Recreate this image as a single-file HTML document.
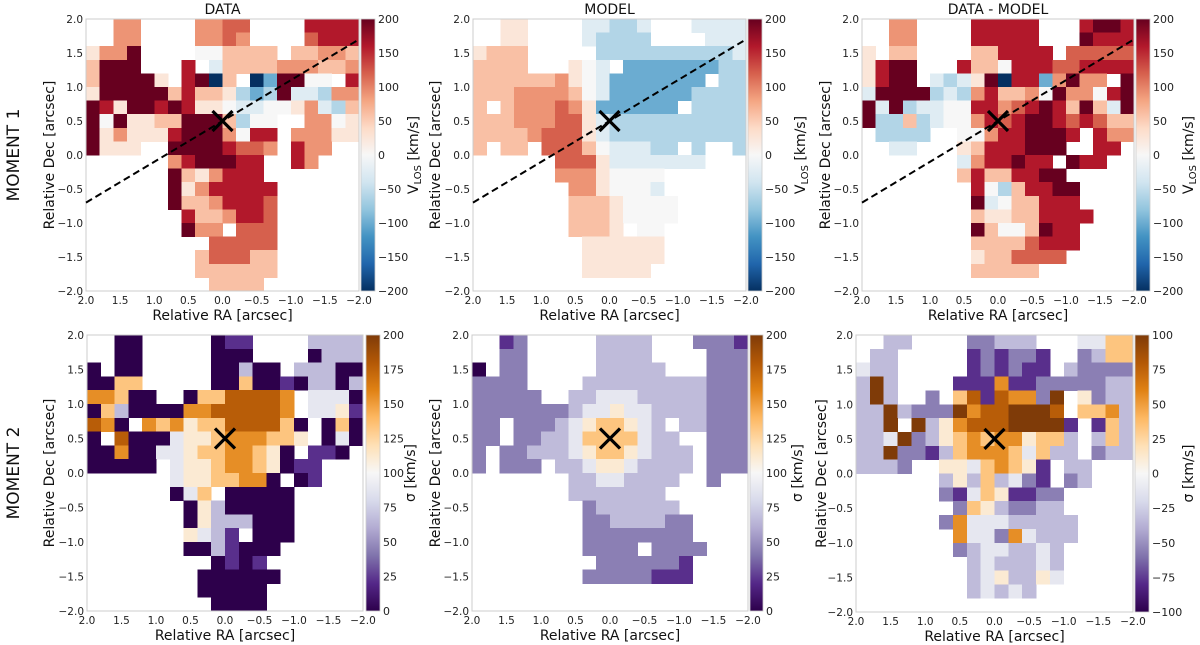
<!DOCTYPE html>
<html><head><meta charset="utf-8">
<style>
html,body{margin:0;padding:0;background:#fff;}
svg{display:block;font-family:"DejaVu Sans","Liberation Sans",sans-serif;}
</style></head>
<body>
<svg id="fig" width="1200" height="645" viewBox="0 0 1200 645" xmlns="http://www.w3.org/2000/svg"></svg>
<script>
// ---------- data ----------
const axisTicks=[2.0,1.5,1.0,0.5,0.0,-0.5,-1.0,-1.5,-2.0];
const velTicks=[200,150,100,50,0,-50,-100,-150,-200];
const sigTicks=[200,175,150,125,100,75,50,25,0];
const resTicks=[100,75,50,25,0,-25,-50,-75,-100];
const velCodes={a:-200,b:-150,c:-100,d:-60,e:-25,f:0,g:25,h:60,i:90,j:120,k:160,l:200};
const paLine=[[2.0,-0.7],[-2.0,1.7]];
const centre=[0.0,0.5];
const rowTitles=["MOMENT 1","MOMENT 2"];
const colTitles=["DATA","MODEL","DATA - MODEL"];

const mom1Data=[
"..ii....iijj....kkkk","..ii....iiji....jkkk","giil....ffhhhh.hhiih","hlll...k.ehhhhiiihhi",
"hllllg.klah.acllff.k","glllllhkhhgdcdleedii","lkgllklkggfeeffgiedh","lflgghhlllhdff..iifg",
"lgigggklllifkk.iiigg","lggg..llllkjji.kii..","......iklllkk..ki...","......lhgikkk.......",
"......lgikkkkk......","......lhhikkkj......",".......khhikkj......",".......lii.jjj......",
".........jjjjj......","........hjjjhh......","........hhhhhh......",".........hhhh......."];
const mom1Model=[
"..gg....eedde...eeee","..gg....edddd....eee","ghhh.....dddddddddde","hhhh...gfe.cccccccdd",
"hhhhhhigfeccccccc.dd","hhhiiiihfeccccccdddd","h.hiiijigcccccc.dddd","hhhiiijjgedddddddddd",
"hhhhijjjgedddddddddd","h.hh.jjjhfeeedd.d..d","......jjjgeeeeeee...","......iiigffff......",
".......iigfffe......",".......hhhgffff.....",".......hhhgffff.....",".......hhhg.ff......",
"........gggggg......","........gggggg......","........ggggg.......","...................."];
const mom1Resid=[
"..ii....kkkkk...kllk","..ii....kkkkk...lkkk","g.hh....hhkkkk.jjjjj","gkll...khhfkkkjjkkkk",
"gkll.edeglakkcilii.l","elllldedikhhifliifkl","leldeeffkkijklkhlhel","lddhdeffikjkllkjkjhh",
".dddd..ffikklllk.kii","..ee...ghkkklll..kk.",".......eikklkk.lkk..",".......hkhhkkll.....",
"........kfdhkkll....","........lefhhkkk....","........hgghhkkkk...","........lhffhlkk....",
"........hhhhjkkk....","........ghhjjjj.....","........hhhhh.......","...................."];
const mom2Data=[
"..00.....011....3333","..00.....000....0333","0.00.....00300.33300","0066.....00600103303",
"77600..06688887.4440","063000077888887.4451","870.767566888860.060","0.80004556777665.040",
"007004456677650.110.","00000.45567765011...","......45566770.01...","......046.00000.....",
".......05300000.....",".......05333000.....",".......5431.000.....",".......0031000......",
".........0101.......","........000000......","........00000.......",".........0000......."];
const mom2Model=[
"..12.....3333...2221","..22.....3333....222","0.22.....33333...222","2222....333333333222",
"22222..3344433333222","22222223445443333222","22.22234566543.33222","22.223346666433..222",
"2.22333456654333.222","2.222.3345543333.222",".......33443333..2..",".......3333333......",
"........2333333.....","........22333322....","........22222222....","........2222.2222...",
".........2222221....","........22222111....","....................","...................."];
const mom2Resid=[
"..33....22333...4466",".33.....121221..2366","433.....121211.32222","393....1117112222233",
"393..2.68187729.5233","339322297889998.6673","339.935788899991.163","3349235676775663.363",
"3392213677764633.233","3332..55467651.33...","......35363421.23...","......214651122.....",
".......26532233.....","......2744433333....",".......744274333....",".......23443343.....",
"........3433343.....","........3453354.....","........34343.......","...................."];

// ---------- colour maps ----------
const RDBU=["#053061","#2166ac","#4393c3","#92c5de","#d1e5f0","#f7f7f7","#fddbc7","#f4a582","#d6604d","#b2182b","#67001f"];
const PUOR=["#2d004b","#542788","#8073ac","#b2abd2","#d8daeb","#f7f7f7","#fee0b6","#fdb863","#e08214","#b35806","#7f3b08"];
function hex(h){return [1,3,5].map(i=>parseInt(h.substr(i,2),16));}
function cmap(stops,t){t=Math.max(0,Math.min(1,t));const n=stops.length-1;const f=t*n;const i=Math.min(n-1,Math.floor(f));const u=f-i;
 const a=hex(stops[i]),b=hex(stops[i+1]);return "rgb("+a.map((v,k)=>Math.round(v+(b[k]-v)*u)).join(",")+")";}

const NS="http://www.w3.org/2000/svg";
const svg=document.getElementById('fig');
function el(tag,attrs,parent){const e=document.createElementNS(NS,tag);for(const k in attrs)e.setAttribute(k,attrs[k]);(parent||svg).appendChild(e);return e;}

const panels=[
 {x:86,y:19,w:273,h:272,cb:361,cbw:14,rows:mom1Data,kind:"vel",min:-200,max:200,ticks:velTicks,map:RDBU,line:true,title:colTitles[0],ylab:54,cbx:418,name:"moment1-data"},
 {x:473,y:19,w:273,h:272,cb:748,cbw:14,rows:mom1Model,kind:"vel",min:-200,max:200,ticks:velTicks,map:RDBU,line:true,title:colTitles[1],ylab:440,cbx:805,name:"moment1-model"},
 {x:862,y:19,w:272,h:272,cb:1136,cbw:14,rows:mom1Resid,kind:"vel",min:-200,max:200,ticks:velTicks,map:RDBU,line:true,title:colTitles[2],ylab:830,cbx:1193,name:"moment1-residual"},
 {x:87,y:335,w:276,h:276,cb:366,cbw:14,rows:mom2Data,kind:"sig",min:0,max:200,ticks:sigTicks,map:PUOR,line:false,title:null,ylab:54,cbx:415,name:"moment2-data"},
 {x:472,y:335,w:276,h:276,cb:750,cbw:13,rows:mom2Model,kind:"sig",min:0,max:200,ticks:sigTicks,map:PUOR,line:false,title:null,ylab:440,cbx:802,name:"moment2-model"},
 {x:856,y:335,w:277,h:277,cb:1135,cbw:14,rows:mom2Resid,kind:"sig",min:-100,max:100,ticks:resTicks,map:PUOR,line:false,title:null,ylab:826,cbx:1193,name:"moment2-residual"}
];

panels.forEach((p,pi)=>{
 const g=el('g',{});
 
 
 const xs=ra=>p.x+(2-ra)/4*p.w;
 const ys=dec=>p.y+(2-dec)/4*p.h;
 const n=p.rows.length, cell=4/n;
 const cg=el('g',{'shape-rendering':'crispEdges'},g);
 
 
 p.rows.forEach((row,r)=>{
  for(let c=0;c<row.length;c++){
   const ch=row[c]; if(ch==='.')continue;
   const v=p.kind==="vel"?velCodes[ch]:p.min+(parseInt(ch)/9)*(p.max-p.min);
   const ra0=2-c*cell, dec0=2-r*cell;
   const x0=xs(ra0), x1=xs(ra0-cell), y0=ys(dec0), y1=ys(dec0-cell);
   const rc=el('rect',{x:x0.toFixed(2),y:y0.toFixed(2),width:(x1-x0+0.4).toFixed(2),height:(y1-y0+0.4).toFixed(2),fill:cmap(p.map,(v-p.min)/(p.max-p.min))},cg);
   
   
  }
 });
 const fr=el('rect',{x:p.x,y:p.y,width:p.w,height:p.h,fill:'none',stroke:'#cccccc','stroke-width':1},g);
 
 
 if(p.line){
  const ln=el('line',{x1:xs(paLine[0][0]),y1:ys(paLine[0][1]),x2:xs(paLine[1][0]),y2:ys(paLine[1][1]),stroke:'#000','stroke-width':2,'stroke-dasharray':'7,4'},g);
  
  
 }
 const cx=xs(centre[0]),cy=ys(centre[1]),d=10;
 const mk=el('path',{d:`M${cx-d},${cy-d}L${cx+d},${cy+d}M${cx-d},${cy+d}L${cx+d},${cy-d}`,stroke:'#000','stroke-width':3.2,fill:'none'},g);
 
 
 axisTicks.forEach(t=>{
  const tx=el('text',{x:xs(t),y:p.y+p.h+13,'font-size':10.5,'text-anchor':'middle',fill:'#222'},g);
  tx.textContent=t.toFixed(1).replace('-','\u2212');
  
  
  const ty=el('text',{x:p.x-3,y:ys(t)+4,'font-size':10.5,'text-anchor':'end',fill:'#222'},g);
  ty.textContent=t.toFixed(1).replace('-','\u2212');
  
  
 });
 const xl=el('text',{x:p.x+p.w/2,y:p.y+p.h+29,'font-size':14,'text-anchor':'middle',fill:'#111'},g);
 xl.textContent='Relative RA [arcsec]';
 
 
 const yl=el('text',{x:0,y:0,'font-size':14,'text-anchor':'middle',fill:'#111',transform:`translate(${p.ylab},${p.y+p.h/2}) rotate(-90)`},g);
 yl.textContent='Relative Dec [arcsec]';
 
 
 if(p.title){
  const tt=el('text',{x:p.x+p.w/2,y:p.y-5,'font-size':14,'text-anchor':'middle',fill:'#111'},g);
  tt.textContent=p.title;
  
  
 }
 const gid='grad'+pi;
 const defs=el('defs',{},g);
 const lg=el('linearGradient',{id:gid,x1:0,y1:1,x2:0,y2:0},defs);
 for(let i=0;i<=20;i++){el('stop',{offset:(i/20),'stop-color':cmap(p.map,i/20)},lg);}
 const cbr=el('rect',{x:p.cb,y:p.y,width:p.cbw,height:p.h,fill:`url(#${gid})`,stroke:'#cccccc','stroke-width':0.8},g);
 
 
 p.ticks.forEach(t=>{
  const yy=p.y+(p.max-t)/(p.max-p.min)*p.h;
  const ct=el('text',{x:p.cb+p.cbw+3,y:yy+4,'font-size':11,fill:'#222'},g);
  ct.textContent=String(t).replace('-','\u2212');
  
  
 });
 const cl=el('text',{x:0,y:0,'font-size':14,'text-anchor':'middle',fill:'#111',transform:`translate(${p.cbx},${p.y+p.h/2}) rotate(-90)`},g);
 if(p.kind==="vel"){
  cl.appendChild(document.createTextNode('V'));
  const sub=el('tspan',{'font-size':10,dy:3},cl); sub.textContent='LOS';
  const rest=el('tspan',{dy:-3},cl); rest.textContent=' [km/s]';
 } else { cl.textContent='\u03c3 [km/s]'; }
 
 
});

rowTitles.forEach((t,i)=>{
 const cy=i===0?155:473;
 const rt=el('text',{x:0,y:0,'font-size':17,'text-anchor':'middle',fill:'#111',transform:`translate(19,${cy}) rotate(-90)`});
 rt.textContent=t;
 
 
});
</script>
</body></html>
